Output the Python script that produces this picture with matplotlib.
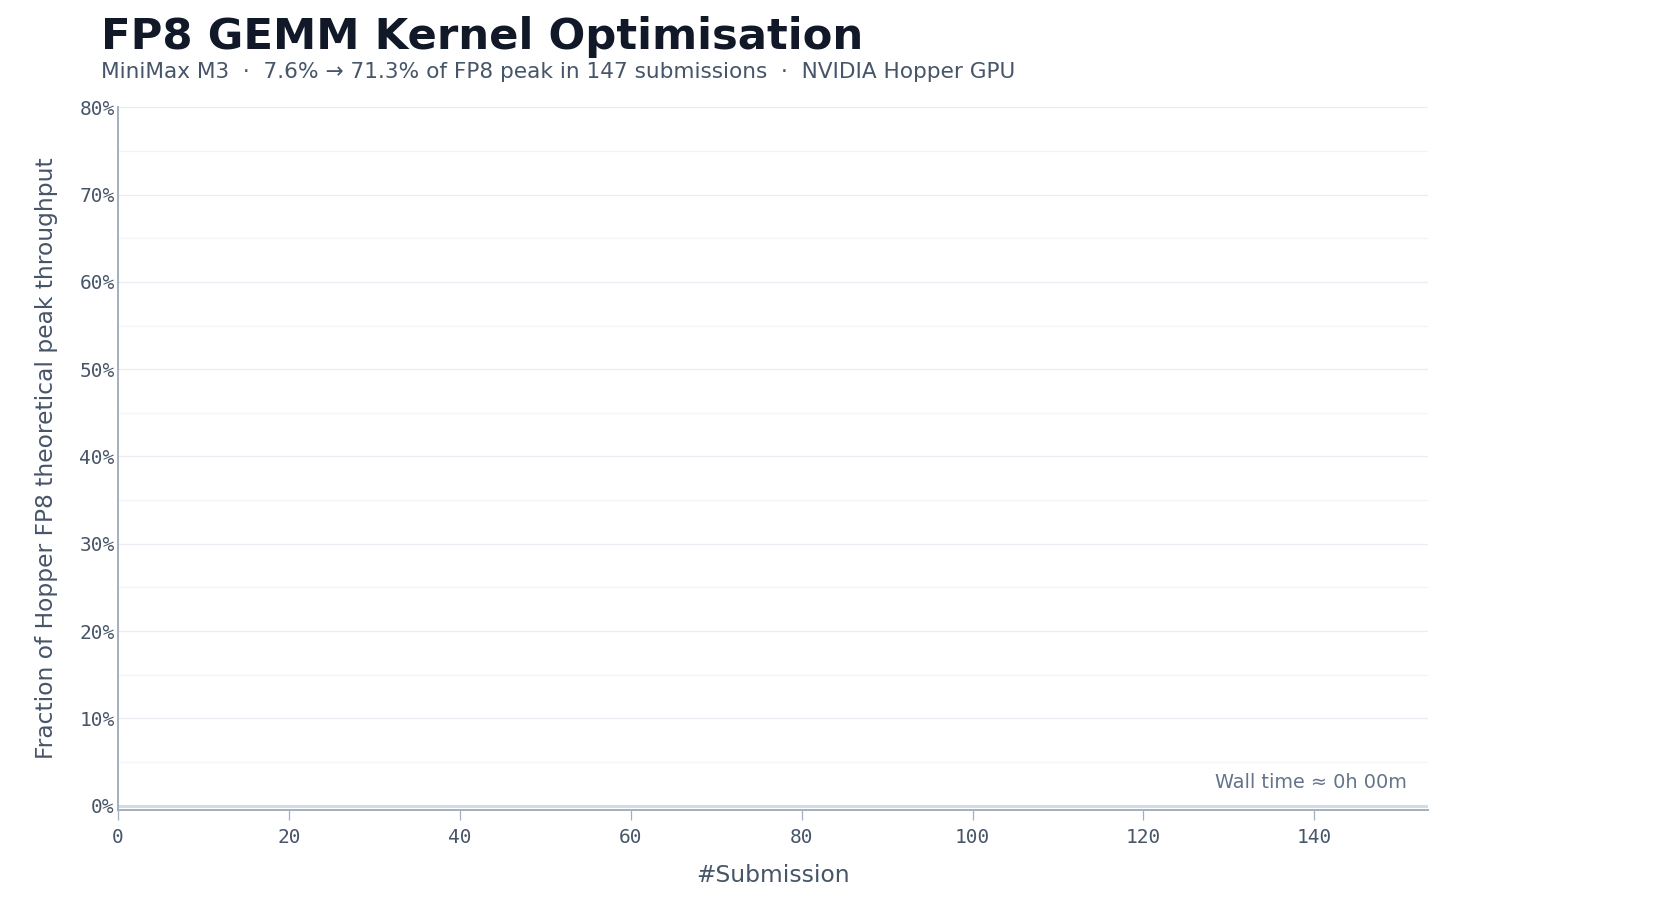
import matplotlib
matplotlib.use("Agg")
import matplotlib.pyplot as plt
from matplotlib.ticker import MultipleLocator, FuncFormatter

# ---- data ----
model_name = "MiniMax M3"
gpu_name = "NVIDIA Hopper GPU"
start_pct = 7.6
best_pct = 71.3
n_submissions = 147
wall_time = "0h 00m"
# points revealed so far in this frame (none yet)
submission_ids = []
peak_fraction_pct = []
x_ticks = [0, 20, 40, 60, 80, 100, 120, 140]
y_ticks = [0, 10, 20, 30, 40, 50, 60, 70, 80]

TITLE_C = "#111827"
SUB_C = "#475569"
TICK_C = "#475569"
SPINE_C = "#a3aec0"
MUTED_C = "#64748b"

fig = plt.figure(figsize=(16.8, 9), dpi=100)
ax = fig.add_axes([118 / 1680, 90 / 900, (1428 - 118) / 1680, (810 - 107.3) / 900])

ax.plot(submission_ids, peak_fraction_pct, color="#2563eb", lw=2)

ax.set_xlim(0, 153.3)
ax.set_ylim(-0.5, 80)
ax.set_xticks(x_ticks)
ax.set_yticks(y_ticks)
ax.yaxis.set_minor_locator(MultipleLocator(5))
ax.yaxis.set_major_formatter(FuncFormatter(lambda v, p: f"{v:.0f}%"))

for lab in ax.get_xticklabels() + ax.get_yticklabels():
    lab.set_family("DejaVu Sans Mono")
ax.tick_params(axis="x", colors=SPINE_C, labelcolor=TICK_C, labelsize=14,
               length=7, width=0.9, pad=6)
ax.tick_params(axis="y", which="both", length=0, labelcolor=TICK_C,
               labelsize=14, pad=2.5)

ax.grid(axis="y", which="major", color="#e9edf3", lw=0.9)
ax.grid(axis="y", which="minor", color="#f2f4f8", lw=0.9)
ax.set_axisbelow(True)
ax.axhline(0, color="#d3dce6", lw=2.2, zorder=1)

for s in ("top", "right"):
    ax.spines[s].set_visible(False)
for s in ("left", "bottom"):
    ax.spines[s].set_color(SPINE_C)
    ax.spines[s].set_linewidth(1.4)

ax.set_xlabel("#Submission", fontsize=16.8, color=SUB_C, labelpad=12)
ax.set_ylabel("Fraction of Hopper FP8 theoretical peak throughput",
              fontsize=16.8, color=SUB_C, labelpad=15)

ax.text(0.984, 0.039, f"Wall time \u2248 {wall_time}", transform=ax.transAxes,
        ha="right", va="center", fontsize=13.9, color=MUTED_C)

fig.text(101 / 1680, 1 - 37 / 900, "FP8 GEMM Kernel Optimisation",
         fontsize=31.2, fontweight="bold", color=TITLE_C, ha="left", va="center")
fig.text(101 / 1680, 1 - 72 / 900,
         f"{model_name}  \u00b7  {start_pct}% \u2192 {best_pct}% of FP8 peak in "
         f"{n_submissions} submissions  \u00b7  {gpu_name}",
         fontsize=15.6, color=SUB_C, ha="left", va="center")

fig.savefig("out.png", dpi=100, facecolor="white")
